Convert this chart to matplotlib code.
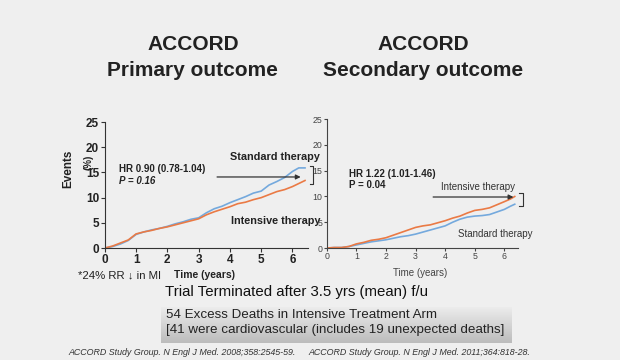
import numpy as np
import matplotlib
matplotlib.use("Agg")
import matplotlib.pyplot as plt

plt.rcParams['font.family'] = ['Liberation Sans', 'DejaVu Sans']

# primary outcome (years, % events)
t_prim = [0, 0.25, 0.5, 0.75, 1.0, 1.25, 1.5, 1.75, 2.0, 2.25, 2.5, 2.75, 3.0, 3.25, 3.5,
          3.75, 4.0, 4.25, 4.5, 4.75, 5.0, 5.25, 5.5, 5.75, 6.0, 6.2, 6.4]
prim_intensive = [0, 0.4, 1.0, 1.6, 2.8, 3.2, 3.5, 3.9, 4.2, 4.6, 5.0, 5.4, 5.8, 6.6, 7.2,
                  7.7, 8.2, 8.8, 9.1, 9.6, 10.0, 10.6, 11.2, 11.6, 12.2, 12.8, 13.4]
prim_standard = [0, 0.3, 0.8, 1.5, 2.7, 3.2, 3.6, 3.9, 4.3, 4.8, 5.2, 5.7, 6.0, 7.0, 7.8,
                 8.3, 9.0, 9.6, 10.2, 10.9, 11.3, 12.5, 13.2, 14.0, 15.2, 15.9, 15.9]

# secondary outcome (mortality)
t_sec = [0, 0.25, 0.5, 0.75, 1.0, 1.25, 1.5, 1.75, 2.0, 2.25, 2.5, 2.75, 3.0, 3.25, 3.5,
         3.75, 4.0, 4.25, 4.5, 4.75, 5.0, 5.25, 5.5, 5.75, 6.0, 6.2, 6.35]
sec_intensive = [0, 0.1, 0.1, 0.3, 0.8, 1.1, 1.5, 1.7, 2.0, 2.5, 3.0, 3.5, 4.0, 4.3, 4.5,
                 4.9, 5.3, 5.8, 6.2, 6.8, 7.3, 7.5, 7.8, 8.4, 9.0, 9.5, 10.0]
sec_standard = [0, 0.1, 0.1, 0.3, 0.6, 0.9, 1.2, 1.4, 1.6, 1.9, 2.2, 2.4, 2.7, 3.1, 3.5,
                3.9, 4.3, 5.0, 5.6, 6.0, 6.2, 6.3, 6.5, 7.0, 7.5, 8.1, 8.5]

xticks = [0, 1, 2, 3, 4, 5, 6]
yticks = [0, 5, 10, 15, 20, 25]

blue = '#74a9dd'
orange = '#ea7a45'
bg = '#efefef'

fig = plt.figure(figsize=(6.2, 3.6), dpi=100, facecolor=bg)

# titles
fig.text(0.311, 0.875, 'ACCORD', ha='center', va='center', fontsize=15, fontweight='bold', color='#222222')
fig.text(0.311, 0.805, 'Primary outcome', ha='center', va='center', fontsize=15, fontweight='bold', color='#222222')
fig.text(0.682, 0.875, 'ACCORD', ha='center', va='center', fontsize=15, fontweight='bold', color='#222222')
fig.text(0.682, 0.805, 'Secondary outcome', ha='center', va='center', fontsize=15, fontweight='bold', color='#222222')

# ---- left chart
ax1 = fig.add_axes([0.169, 0.311, 0.328, 0.35])
ax1.set_facecolor(bg)
ax1.plot(t_prim, prim_standard, color=blue, lw=1.2)
ax1.plot(t_prim, prim_intensive, color=orange, lw=1.2)
ax1.set_xlim(0, 6.5)
ax1.set_ylim(0, 25)
ax1.set_xticks(xticks)
ax1.set_yticks(yticks)
for s in ['top', 'right']:
    ax1.spines[s].set_visible(False)
for s in ['left', 'bottom']:
    ax1.spines[s].set_color('#333333')
ax1.tick_params(labelsize=8.5, length=3, color='#333333', labelcolor='#222222', pad=1)
for lab in ax1.get_xticklabels() + ax1.get_yticklabels():
    lab.set_fontweight('bold')

fig.text(0.11, 0.53, 'Events', rotation=90, ha='center', va='center', fontsize=8.5, fontweight='bold', color='#222222')
fig.text(0.142, 0.55, '(%)', rotation=90, ha='center', va='center', fontsize=7, fontweight='bold', color='#222222')

ax1.text(0.45, 15.6, 'HR 0.90 (0.78-1.04)', fontsize=7, fontweight='bold', color='#222222', va='center')
ax1.text(0.45, 13.4, 'P = 0.16', fontsize=7, fontweight='bold', style='italic', color='#222222', va='center')
ax1.text(6.88, 18.0, 'Standard therapy', fontsize=7.8, fontweight='bold', color='#222222', ha='right', va='center')
ax1.text(6.88, 5.4, 'Intensive therapy', fontsize=7.8, fontweight='bold', color='#222222', ha='right', va='center')
ax1.annotate('', xy=(6.35, 14.1), xytext=(3.5, 14.1),
             arrowprops=dict(arrowstyle='-|>', color='#333333', lw=0.9, mutation_scale=7))
ax1.plot([6.55, 6.65, 6.65, 6.55], [16.2, 16.2, 12.8, 12.8], color='#333333', lw=0.8, clip_on=False)

# ---- right chart
ax2 = fig.add_axes([0.527, 0.311, 0.308, 0.358])
ax2.set_facecolor(bg)
ax2.plot(t_sec, sec_standard, color=blue, lw=1.2)
ax2.plot(t_sec, sec_intensive, color=orange, lw=1.2)
ax2.set_xlim(0, 6.45)
ax2.set_ylim(0, 25)
ax2.set_xticks(xticks)
ax2.set_yticks(yticks)
for s in ['top', 'right']:
    ax2.spines[s].set_visible(False)
for s in ['left', 'bottom']:
    ax2.spines[s].set_color('#444444')
ax2.tick_params(labelsize=6.3, length=2, color='#444444', labelcolor='#444444', pad=1)

ax2.text(0.75, 14.4, 'HR 1.22 (1.01-1.46)', fontsize=7, fontweight='bold', color='#222222', va='center')
ax2.text(0.75, 12.3, 'P = 0.04', fontsize=7, fontweight='bold', color='#222222', va='center')
ax2.text(3.85, 11.8, 'Intensive therapy', fontsize=7, color='#333333', va='center')
ax2.text(4.45, 2.8, 'Standard therapy', fontsize=7, color='#333333', va='center')
ax2.annotate('', xy=(6.4, 9.9), xytext=(3.5, 9.9),
             arrowprops=dict(arrowstyle='-|>', color='#333333', lw=0.9, mutation_scale=7))
ax2.plot([6.5, 6.62, 6.62, 6.5], [10.7, 10.7, 8.1, 8.1], color='#333333', lw=0.8, clip_on=False)

# axis labels and notes
fig.text(0.281, 0.237, 'Time (years)', ha='left', va='center', fontsize=7.5, fontweight='bold', color='#222222')
fig.text(0.634, 0.242, 'Time (years)', ha='left', va='center', fontsize=7, color='#444444')
fig.text(0.126, 0.235, '*24% RR \u2193 in MI', ha='left', va='center', fontsize=8.2, color='#222222')
fig.text(0.266, 0.188, 'Trial Terminated after 3.5 yrs (mean) f/u', ha='left', va='center', fontsize=10.8, color='#111111')

# gradient box
axb = fig.add_axes([0.26, 0.047, 0.566, 0.1])
grad = np.linspace(0, 1, 50).reshape(-1, 1)
axb.imshow(grad, aspect='auto', cmap=matplotlib.colors.LinearSegmentedColormap.from_list('g', ['#ededed', '#bcbcbc']),
           extent=[0, 1, 0, 1])
axb.set_axis_off()
fig.text(0.268, 0.125, '54 Excess Deaths in Intensive Treatment Arm', ha='left', va='center', fontsize=9.6, color='#222222')
fig.text(0.268, 0.083, '[41 were cardiovascular (includes 19 unexpected deaths]', ha='left', va='center', fontsize=9.6, color='#222222')

fig.text(0.111, 0.02, 'ACCORD Study Group. N Engl J Med. 2008;358:2545-59.', ha='left', va='center',
         fontsize=6.4, style='italic', color='#333333')
fig.text(0.497, 0.02, 'ACCORD Study Group. N Engl J Med. 2011;364:818-28.', ha='left', va='center',
         fontsize=6.4, style='italic', color='#333333')

fig.savefig('out.png', dpi=100, facecolor=bg)
